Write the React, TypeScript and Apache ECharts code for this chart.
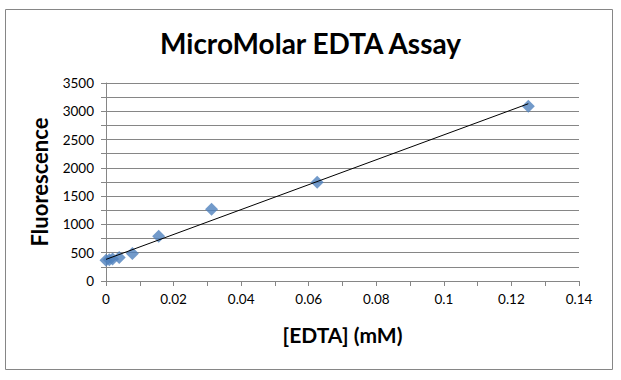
import React, { useEffect, useRef } from "react";
import * as echarts from "echarts";

const edtaMM = [0, 0.000977, 0.00195, 0.0039, 0.0078, 0.0156, 0.03125, 0.0625, 0.125];
const fluorescence = [365, 375, 390, 415, 484, 790, 1267, 1744, 3090];
const xTicks = [0, 0.02, 0.04, 0.06, 0.08, 0.1, 0.12, 0.14];
const yTicks = [0, 500, 1000, 1500, 2000, 2500, 3000, 3500];

function linearFit(xs: number[], ys: number[]) {
  const n = xs.length;
  const mx = xs.reduce((a, b) => a + b, 0) / n;
  const my = ys.reduce((a, b) => a + b, 0) / n;
  let sxy = 0, sxx = 0;
  for (let i = 0; i < n; i++) {
    sxy += (xs[i] - mx) * (ys[i] - my);
    sxx += (xs[i] - mx) * (xs[i] - mx);
  }
  const m = sxy / sxx;
  return { m, b: my - m * mx };
}

export default function App() {
  const ref = useRef<HTMLDivElement>(null);
  useEffect(() => {
    if (!ref.current) return;
    const chart = echarts.init(ref.current, null, { renderer: "svg" });
    const fit = linearFit(edtaMM, fluorescence);
    const xMin = Math.min(...edtaMM);
    const xMax = Math.max(...edtaMM);
    const grey = "#868686";
    const font = "Lato, 'Noto Sans', sans-serif";
    chart.setOption({
      animation: false,
      backgroundColor: "#ffffff",
      title: {
        text: "MicroMolar EDTA Assay",
        left: "center",
        top: 24,
        textStyle: { fontFamily: font, fontWeight: "bold", fontSize: 28, color: "#000" },
      },
      graphic: [
        {
          type: "rect",
          shape: { x: 5.5, y: 9.5, width: 607, height: 360 },
          style: { fill: "none", stroke: grey, lineWidth: 1 },
          silent: true,
        },
      ],
      grid: { left: 106, right: 42, top: 83, bottom: 99 },
      xAxis: {
        type: "value",
        min: xTicks[0],
        max: xTicks[xTicks.length - 1],
        interval: 0.02,
        name: "[EDTA] (mM)",
        nameLocation: "middle",
        nameGap: 43,
        nameTextStyle: { fontFamily: font, fontWeight: "bold", fontSize: 21, color: "#000" },
        axisLine: { show: true, lineStyle: { color: grey, width: 1 } },
        axisTick: { show: true, inside: false, length: 5, lineStyle: { color: grey } },
        minorTick: { show: true, splitNumber: 2, length: 5, lineStyle: { color: grey } },
        splitLine: { show: false },
        axisLabel: {
          fontFamily: font,
          fontSize: 13.5,
          color: "#000",
          margin: 11,
          formatter: (v: number) => String(Math.round(v * 100) / 100),
        },
      },
      yAxis: {
        type: "value",
        min: yTicks[0],
        max: yTicks[yTicks.length - 1],
        interval: 500,
        name: "Fluorescence",
        nameLocation: "middle",
        nameGap: 56,
        nameTextStyle: { fontFamily: font, fontWeight: "bold", fontSize: 22, color: "#000" },
        axisLine: { show: true, lineStyle: { color: grey, width: 1 } },
        axisTick: { show: true, inside: false, length: 5, lineStyle: { color: grey } },
        minorTick: { show: true, splitNumber: 2, length: 5, lineStyle: { color: grey } },
        splitLine: { show: true, lineStyle: { color: grey, width: 1 } },
        minorSplitLine: { show: true, lineStyle: { color: grey, width: 1 } },
        axisLabel: {
          fontFamily: font,
          fontSize: 13.5,
          color: "#000",
          margin: 12,
          formatter: (v: number) => String(v),
        },
      },
      series: [
        {
          type: "line",
          data: [
            [xMin, fit.b + fit.m * xMin],
            [xMax, fit.b + fit.m * xMax],
          ],
          showSymbol: false,
          symbol: "none",
          lineStyle: { color: "#000", width: 1 },
          silent: true,
          z: 3,
        },
        {
          type: "scatter",
          data: edtaMM.map((x, i) => [x, fluorescence[i]]),
          symbol: "diamond",
          symbolSize: 13,
          itemStyle: { color: "#4F81BD" },
          z: 2,
        },
      ],
    });
    return () => chart.dispose();
  }, []);
  return (
    <div
      ref={ref}
      style={{ position: "absolute", left: 0, top: 0, width: 621, height: 380 }}
    />
  );
}
